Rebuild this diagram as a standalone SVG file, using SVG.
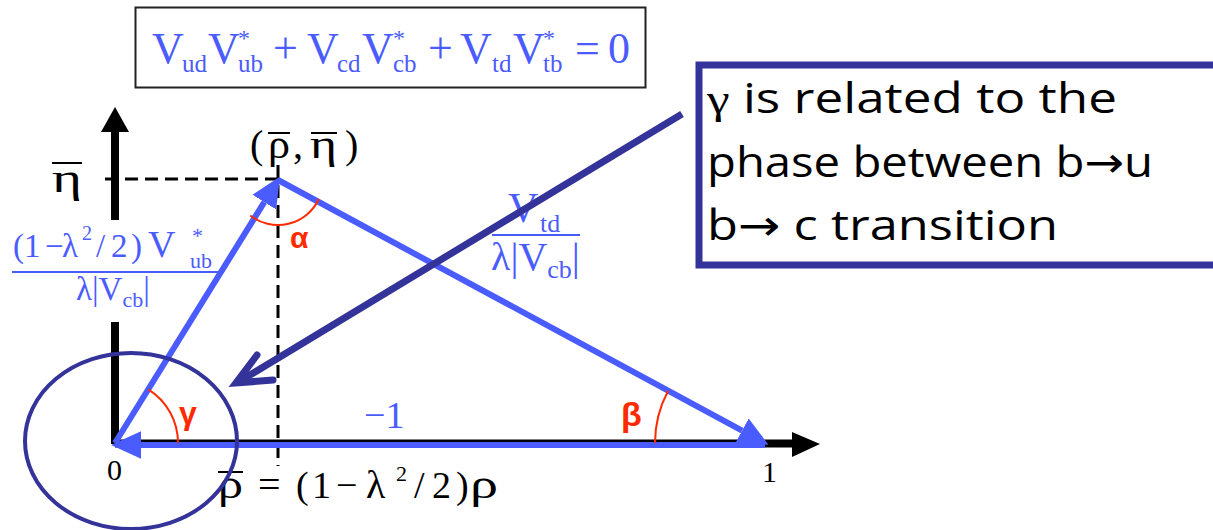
<svg xmlns="http://www.w3.org/2000/svg" width="1213" height="530" viewBox="0 0 1213 530">
<style>
.m{font-family:"Liberation Serif","Times New Roman",serif;fill:#4b5cff}
.k{font-family:"Liberation Serif","Times New Roman",serif;fill:#000}
.g{font-family:"Liberation Sans",Arial,sans-serif;font-weight:bold;fill:#ff2a00}
.tb{font-family:"Open Sans","DejaVu Sans",sans-serif;fill:#000;font-size:42px}
.tri{stroke:#4b5cff;stroke-width:6;fill:none;marker-end:url(#ba)}
.dash{stroke:#000;stroke-width:3;stroke-dasharray:13 7;fill:none}
.arc{stroke:#ff2a00;stroke-width:2;fill:none}
</style>
<defs>
<marker id="ba" markerUnits="userSpaceOnUse" markerWidth="30" markerHeight="30" viewBox="0 0 26 24" refX="0" refY="12" orient="auto">
<path d="M0,0 L26,12 L0,24 z" fill="#4b5cff"/>
</marker>
</defs>
<rect width="1213" height="530" fill="#fff"/>

<g id="formula-box">
<rect x="135.5" y="7.5" width="510" height="80" fill="#fff" stroke="#222" stroke-width="2"/>
<g class="m">
<text x="152" y="63" font-size="44">V</text><text x="182" y="72" font-size="25">ud</text>
<text x="208" y="63" font-size="44">V</text><text x="238" y="46" font-size="24">*</text><text x="238" y="72" font-size="25">ub</text>
<text x="273" y="63" font-size="44">+</text>
<text x="307" y="63" font-size="44">V</text><text x="337" y="72" font-size="25">cd</text>
<text x="362" y="63" font-size="44">V</text><text x="393" y="46" font-size="24">*</text><text x="393" y="72" font-size="25">cb</text>
<text x="428" y="63" font-size="44">+</text>
<text x="460" y="63" font-size="44">V</text><text x="492" y="72" font-size="25">td</text>
<text x="513" y="63" font-size="44">V</text><text x="543" y="46" font-size="24">*</text><text x="543" y="72" font-size="25">tb</text>
<text x="575" y="63" font-size="44">=</text>
<text x="608" y="63" font-size="44">0</text>
</g>
</g>

<g id="axes">
<path d="M115,132 V220 M115,322 V444" stroke="#000" stroke-width="8"/>
<polygon points="115,107 101,132 129,132" fill="#000"/>
<line x1="115" y1="443.5" x2="794" y2="443.5" stroke="#000" stroke-width="8"/>
<polygon points="820,444 792,432 792,457" fill="#000"/>
</g>

<g id="guides">
<line class="dash" x1="105" y1="179" x2="278" y2="179"/>
<line class="dash" x1="278" y1="165" x2="278" y2="466"/>
</g>

<g id="connectors">
<line class="tri" x1="115" y1="443" x2="264.3" y2="202.1"/>
<line class="tri" x1="278" y1="180" x2="742.1" y2="430.6"/>
<line class="tri" x1="765" y1="445" x2="141" y2="445"/>
</g>

<g id="angles">
<path class="arc" d="M250.3,215.5 A45,45 0 0 0 318.8,199"/>
<path class="arc" d="M178,443 A63,63 0 0 0 148.2,389.4"/>
<path class="arc" d="M655,443 A110,110 0 0 1 668.2,390.8"/>
<text class="g" x="290" y="248" font-size="30">α</text>
<text class="g" x="179" y="424" font-size="32">γ</text>
<text class="g" x="621" y="426" font-size="34">β</text>
</g>

<g id="labels" class="k">
<text x="52" y="192" font-size="40" textLength="30" lengthAdjust="spacingAndGlyphs">η</text>
<line x1="52" y1="163" x2="82" y2="163" stroke="#000" stroke-width="2"/>
<text x="250" y="158" font-size="40">(</text>
<text x="268" y="158" font-size="40" textLength="22" lengthAdjust="spacingAndGlyphs">ρ</text>
<text x="293" y="158" font-size="40">,</text>
<text x="310" y="158" font-size="40" textLength="27" lengthAdjust="spacingAndGlyphs">η</text>
<text x="345" y="158" font-size="40">)</text>
<line x1="268" y1="133" x2="290" y2="133" stroke="#000" stroke-width="2"/>
<line x1="311" y1="133" x2="337" y2="133" stroke="#000" stroke-width="2"/>
<text x="107" y="480" font-size="30">0</text>
<text x="762" y="482" font-size="30">1</text>
<text x="218" y="498" font-size="40" textLength="25" lengthAdjust="spacingAndGlyphs">ρ</text>
<line x1="218" y1="472" x2="243" y2="472" stroke="#000" stroke-width="2"/>
<text x="258" y="498" font-size="40">=</text>
<text x="296" y="498" font-size="38">(</text>
<text x="312" y="498" font-size="38">1</text>
<text x="336" y="498" font-size="38">−</text>
<text x="366" y="498" font-size="40">λ</text>
<text x="396" y="481" font-size="22">2</text>
<text x="414" y="498" font-size="38">/</text>
<text x="432" y="498" font-size="38">2</text>
<text x="456" y="498" font-size="38">)</text>
<text x="470" y="498" font-size="40" textLength="28" lengthAdjust="spacingAndGlyphs">ρ</text>
</g>
<text class="m" x="364" y="428" font-size="38">−1</text>

<g id="label-left" class="m">
<text x="13" y="257" font-size="33">(</text>
<text x="24" y="257" font-size="33">1</text>
<text x="45" y="257" font-size="33">−</text>
<text x="62" y="257" font-size="33">λ</text>
<text x="82" y="240" font-size="20">2</text>
<text x="96" y="257" font-size="33">/</text>
<text x="111" y="257" font-size="33">2</text>
<text x="131" y="257" font-size="33">)</text>
<text x="148" y="257" font-size="38">V</text>
<text x="192" y="243" font-size="22">*</text>
<text x="190" y="268" font-size="22">ub</text>
<line x1="12" y1="272" x2="220" y2="272" stroke="#4b5cff" stroke-width="2"/>
<text x="76" y="300" font-size="33">λ|V<tspan font-size="22" dy="7">cb</tspan><tspan dy="-7">|</tspan></text>
</g>

<g id="label-right" class="m">
<text x="508" y="222" font-size="42">V</text>
<text x="540" y="232" font-size="26">td</text>
<line x1="492" y1="235" x2="580" y2="235" stroke="#4b5cff" stroke-width="2"/>
<text x="491" y="270" font-size="40">λ|V<tspan font-size="26" dy="8">cb</tspan><tspan dy="-8">|</tspan></text>
</g>

<g id="highlight">
<ellipse cx="131" cy="441" rx="106" ry="88" fill="none" stroke="#333399" stroke-width="4"/>
</g>

<g id="pointer">
<line x1="682" y1="114" x2="240" y2="381" stroke="#333399" stroke-width="7"/>
<polyline points="257,355 236,383 273,380" fill="none" stroke="#333399" stroke-width="7" stroke-linejoin="miter" stroke-linecap="round"/>
</g>

<g id="note">
<rect x="699" y="65" width="530" height="200" fill="#fff" stroke="#333399" stroke-width="7"/>
<text class="tb" x="707" y="113" textLength="410" lengthAdjust="spacingAndGlyphs"><tspan font-family="Liberation Serif,serif">γ</tspan> is related to the</text>
<text class="tb" x="707" y="177" textLength="446" lengthAdjust="spacingAndGlyphs">phase between b→u</text>
<text class="tb" x="707" y="240" textLength="351" lengthAdjust="spacingAndGlyphs">b→ c transition</text>
</g>
</svg>
